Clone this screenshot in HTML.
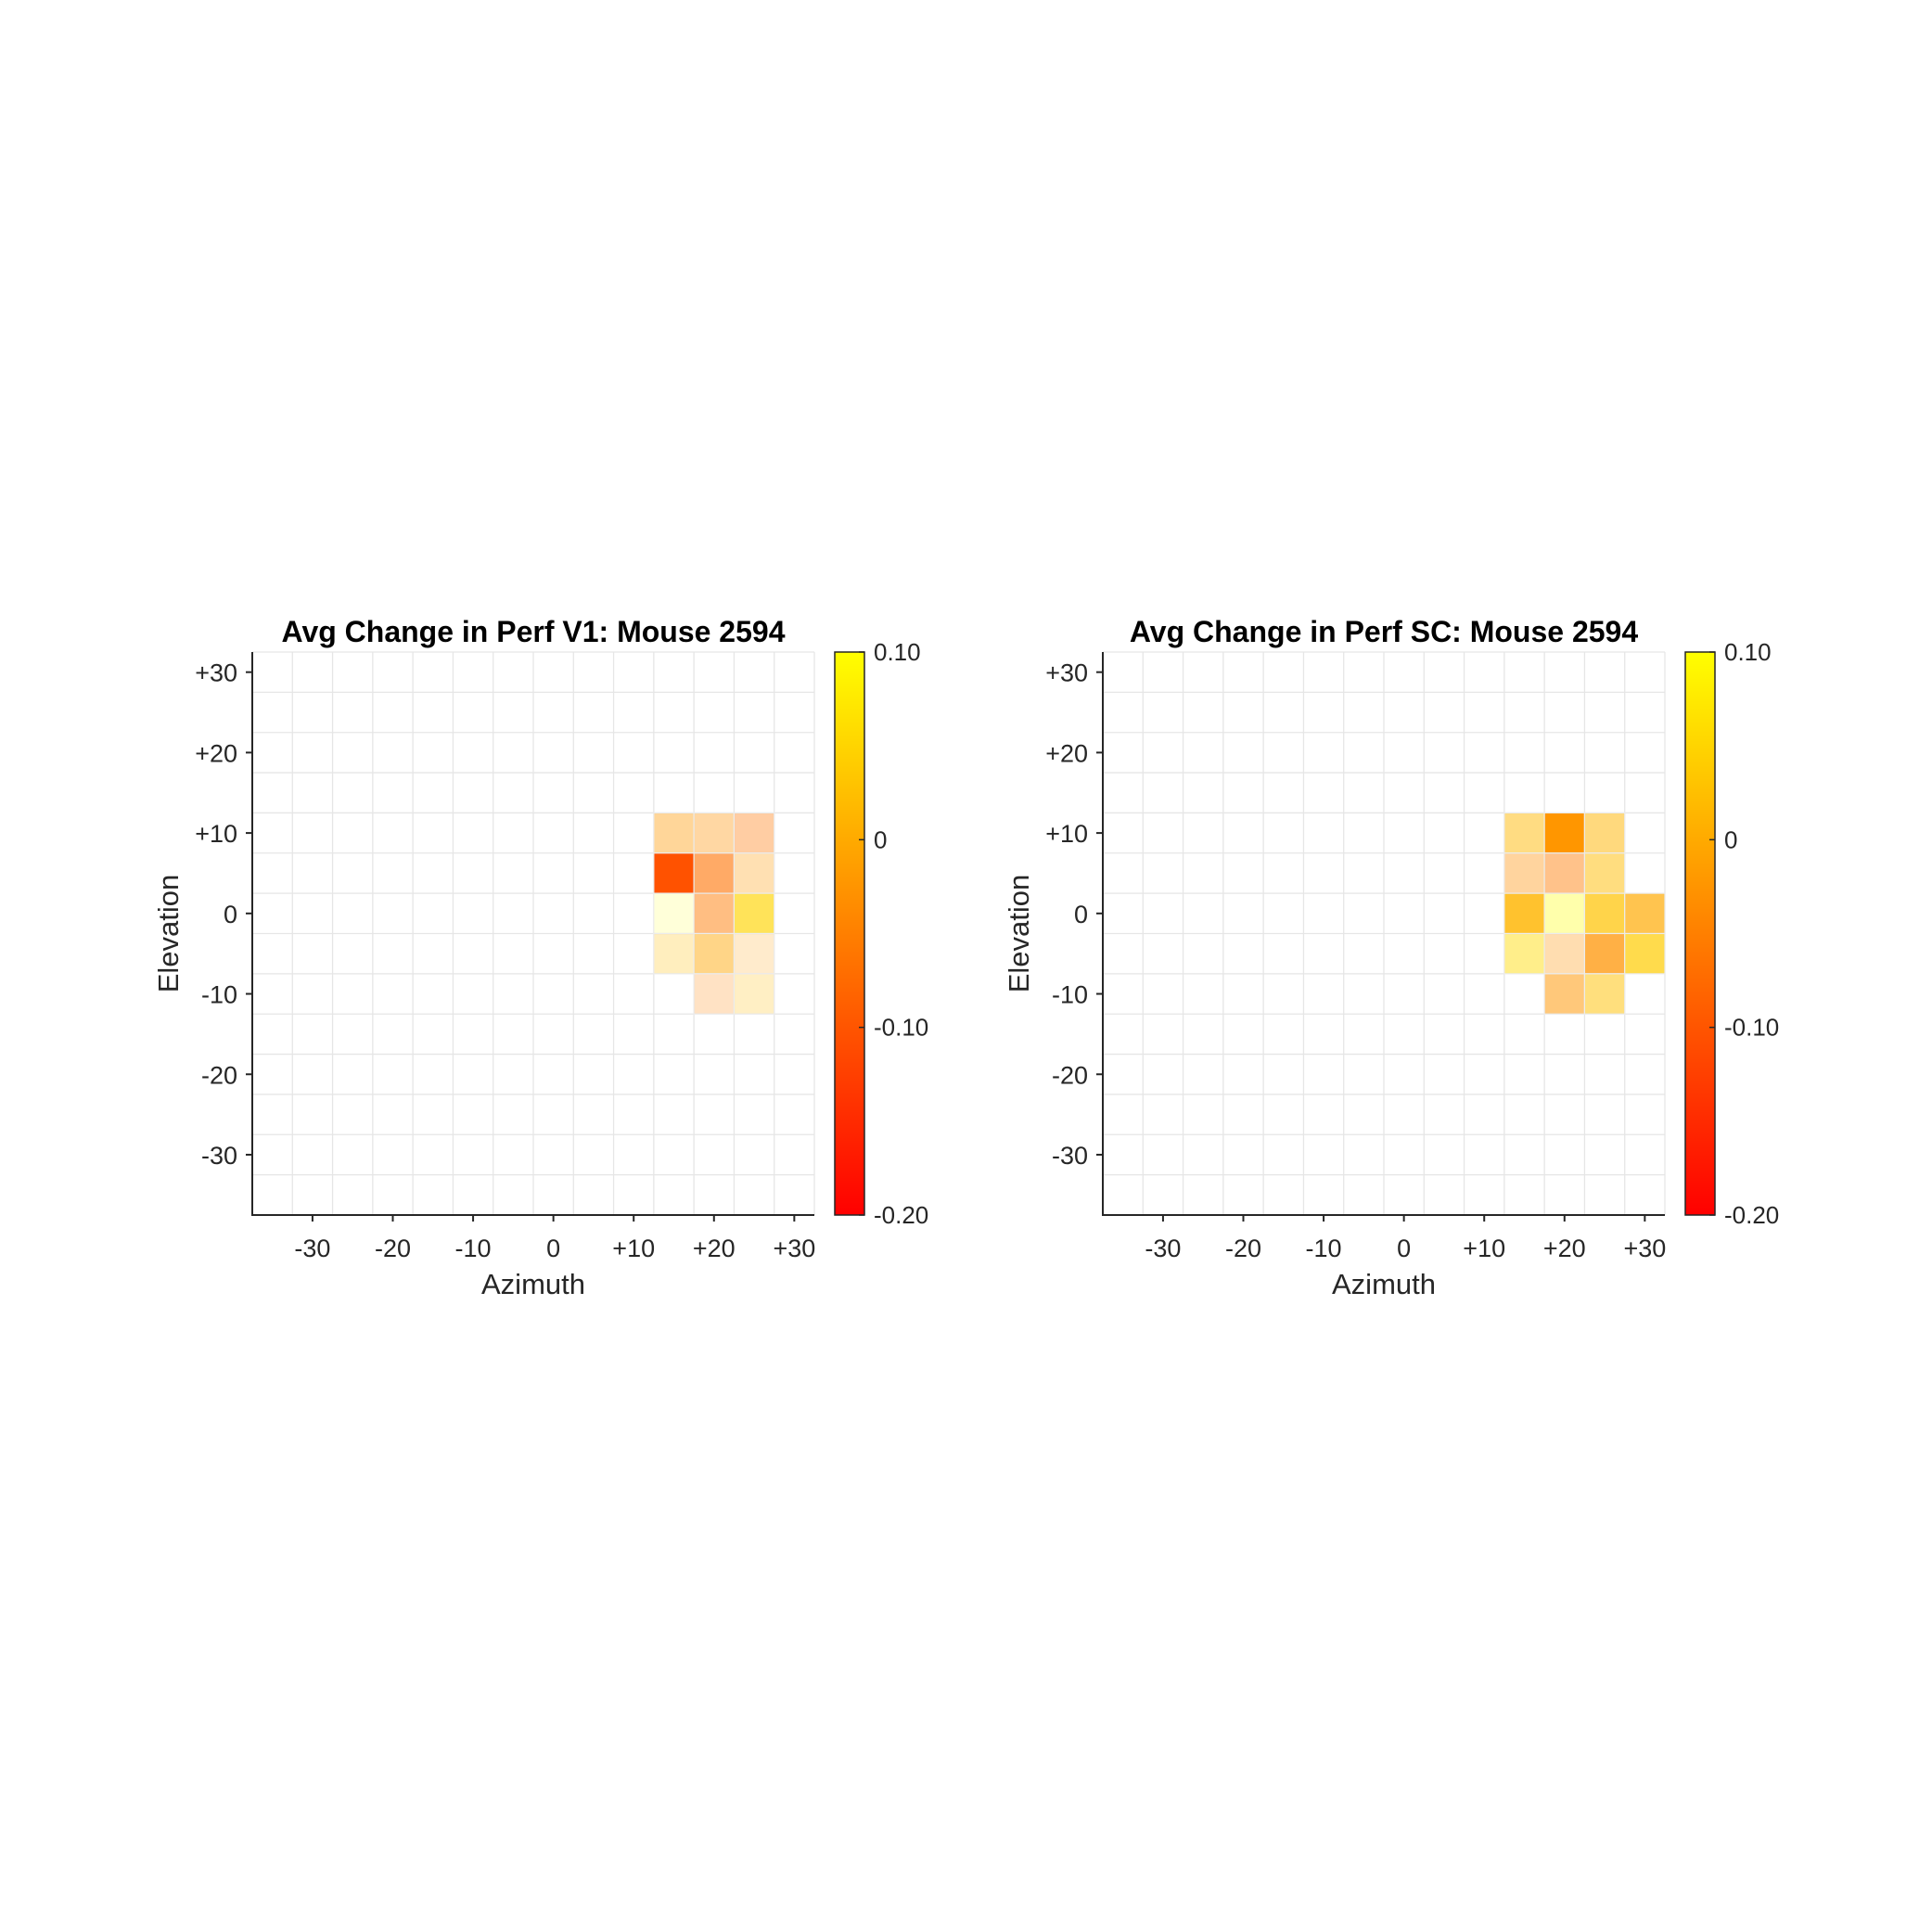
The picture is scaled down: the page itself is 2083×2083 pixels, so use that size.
<!DOCTYPE html>
<html><head><meta charset="utf-8"><style>
html,body{margin:0;padding:0;background:#fff;}
svg{display:block;font-family:"Liberation Sans",Arial,sans-serif;}
</style></head><body>
<svg id="fig" width="2083" height="2083" viewBox="0 0 2083 2083">
<defs>
<linearGradient id="autumn" x1="0" y1="1" x2="0" y2="0">
<stop offset="0" stop-color="#ff0000"/><stop offset="1" stop-color="#ffff00"/>
</linearGradient>
</defs>
</svg>
<script>
// Shared axis data
const azimuthTicks = [-30,-20,-10,0,10,20,30];
const elevationTicks = [30,20,10,0,-10,-20,-30];
const colorbarTicks = [0.1,0,-0.1,-0.2];
const colorbarTickLabels = ["0.10","0","-0.10","-0.20"];
const titles = ["Avg Change in Perf V1: Mouse 2594","Avg Change in Perf SC: Mouse 2594"];
// cell data: azimuth, elevation, value, alpha
const v1Az = [15,20,25, 15,20,25, 15,20,25, 15,20,25, 20,25];
const v1El = [10,10,10, 5,5,5, 0,0,0, -5,-5,-5, -10,-10];
const v1Val = [-0.02,-0.032,-0.062, -0.104,-0.066,-0.02, 0.1,-0.056,0.049, 0.02,-0.005,-0.02, -0.05,0.02];
const v1Alpha = [0.40,0.36,0.36, 1.0,0.60,0.30, 0.15,0.49,0.65, 0.255,0.47,0.20, 0.23,0.23];
const scAz = [15,20,25, 15,20,25, 15,20,25,30, 15,20,25,30, 20,25];
const scEl = [10,10,10, 5,5,5, 0,0,0,0, -5,-5,-5,-5, -10,-10];
const scVal = [0.016,-0.024,0.012, -0.033,-0.056,0.02, 0.012,0.1,0.03,0.0, 0.056,-0.029,-0.027,0.04, -0.023,0.027];
const scAlpha = [0.49,1.0,0.51, 0.38,0.46,0.5, 0.82,0.33,0.71,0.69, 0.46,0.31,0.73,0.70, 0.52,0.51];

const NS="http://www.w3.org/2000/svg";
const svg=document.getElementById('fig');
function mk(tag,attrs,parent){const e=document.createElementNS(NS,tag);for(const k in attrs)e.setAttribute(k,attrs[k]);(parent||svg).appendChild(e);return e;}

function drawPanel(idx,ox,azs,els,vals,alphas){
  const L=ox,R=ox+606,T=703,B=1310;
  const xMin=-37.5,xMax=32.5,yMin=-37.5,yMax=32.5,vMin=-0.2,vMax=0.1;
  const xS=v=>L+(v-xMin)/(xMax-xMin)*(R-L);
  const yS=v=>B-(v-yMin)/(yMax-yMin)*(B-T);
  const g=mk('g',{});
  
  
  for(let i=0;i<=14;i++){
    const x=xS(xMin+i*5),y=yS(yMin+i*5);
    const gl=mk('line',{x1:x,y1:T,x2:x,y2:B,stroke:'#e6e6e6','stroke-width':1.3},g);
    
    
    const gh=mk('line',{x1:L,y1:y,x2:R,y2:y,stroke:'#e6e6e6','stroke-width':1.3},g);
    
    
  }
  for(let i=0;i<vals.length;i++){
    const t=Math.max(0,Math.min(1,(vals[i]-vMin)/(vMax-vMin)));
    const col='rgb(255,'+Math.round(255*t)+',0)';
    const x0=xS(azs[i]-2.5),x1=xS(azs[i]+2.5),y0=yS(els[i]+2.5),y1=yS(els[i]-2.5);
    const r=mk('rect',{x:x0,y:y0,width:x1-x0,height:y1-y0,fill:col,'fill-opacity':alphas[i],stroke:'#ececec','stroke-width':1.2},g);
    
    
  }
  const ax=mk('path',{d:`M${L},${T} L${L},${B} L${R},${B}`,fill:'none',stroke:'#262626','stroke-width':2},g);
  
  
  azimuthTicks.forEach(v=>{
    const x=xS(v);
    mk('line',{x1:x,y1:B,x2:x,y2:B+7,stroke:'#262626','stroke-width':2},g);
    const t=mk('text',{x:x,y:B+45,'font-size':27,'text-anchor':'middle',fill:'#262626'},g);
    t.textContent=v>0?'+'+v:String(v);
    
    
  });
  elevationTicks.forEach(v=>{
    const y=yS(v);
    mk('line',{x1:L-7,y1:y,x2:L,y2:y,stroke:'#262626','stroke-width':2},g);
    const t=mk('text',{x:L-16,y:y+10,'font-size':27,'text-anchor':'end',fill:'#262626'},g);
    t.textContent=v>0?'+'+v:String(v);
    
    
  });
  const xl=mk('text',{x:(L+R)/2,y:1395,'font-size':31,'text-anchor':'middle',fill:'#262626'},g);
  xl.textContent='Azimuth';
  
  
  const yl=mk('text',{x:0,y:0,'font-size':31,'text-anchor':'middle',fill:'#262626',transform:`translate(${L-80},${(T+B)/2}) rotate(-90)`},g);
  yl.textContent='Elevation';
  
  
  const ti=mk('text',{x:(L+R)/2,y:692,'font-size':32,'font-weight':'bold','text-anchor':'middle',fill:'#000'},g);
  ti.textContent=titles[idx];
  
  
  const cx=ox+628,cw=32;
  const cb=mk('rect',{x:cx,y:T,width:cw,height:B-T,fill:'url(#autumn)',stroke:'#262626','stroke-width':1.5},g);
  
  
  const cS=v=>B-(v-vMin)/(vMax-vMin)*(B-T);
  colorbarTicks.forEach((v,i)=>{
    const y=cS(v);
    mk('line',{x1:cx+cw-6,y1:y,x2:cx+cw,y2:y,stroke:'#262626','stroke-width':1.5},g);
    const t=mk('text',{x:cx+cw+10,y:y+9,'font-size':26,fill:'#262626'},g);
    t.textContent=colorbarTickLabels[i];
    
    
  });
}
drawPanel(0,272,v1Az,v1El,v1Val,v1Alpha);
drawPanel(1,1189,scAz,scEl,scVal,scAlpha);
</script>
</body></html>
